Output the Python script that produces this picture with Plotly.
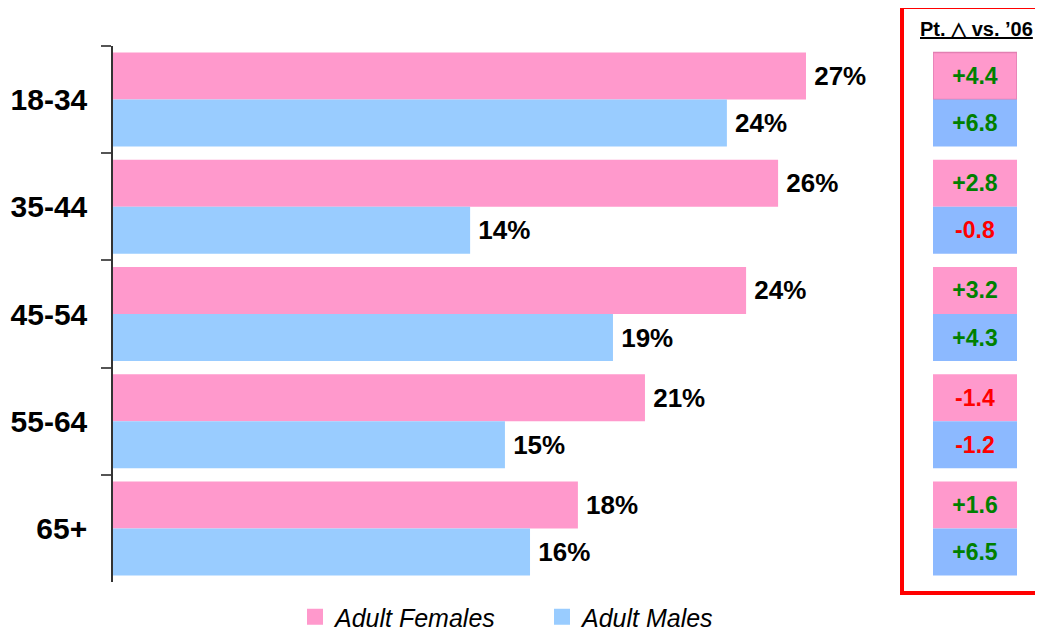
import plotly.graph_objects as go

categories = ["18-34", "35-44", "45-54", "55-64", "65+"]
females = [27.07, 25.98, 24.73, 20.78, 18.16]
males = [23.98, 13.95, 19.53, 15.31, 16.29]
female_labels = ["27%", "26%", "24%", "21%", "18%"]
male_labels = ["24%", "14%", "19%", "15%", "16%"]
female_delta = [4.4, 2.8, 3.2, -1.4, 1.6]
male_delta = [6.8, -0.8, 4.3, -1.2, 6.5]

PINK = "#FF99CC"
BLUE = "#99CCFF"
BOX_BLUE = "#8CB9FF"
FONT = "Liberation Sans, Arial, sans-serif"

def dcol(vals):
    return ["#008000" if v >= 0 else "#FF0000" for v in vals]

def dtxt(vals):
    return [f"{v:+.1f}" for v in vals]

fig = go.Figure()
fig.add_trace(go.Bar(
    y=categories, x=females, orientation="h", name="Adult Females",
    marker=dict(color=PINK, line=dict(width=0)), showlegend=False,
    text=["\u2009" + t for t in female_labels], textposition="outside",
    textfont=dict(family=FONT, size=26, color="black", weight="bold"),
    constraintext="none", cliponaxis=False, hoverinfo="skip",
))
fig.add_trace(go.Bar(
    y=categories, x=males, orientation="h", name="Adult Males",
    marker=dict(color=BLUE, line=dict(width=0)), showlegend=False,
    text=["\u2009" + t for t in male_labels], textposition="outside",
    textfont=dict(family=FONT, size=26, color="black", weight="bold"),
    constraintext="none", cliponaxis=False, hoverinfo="skip",
))
fig.add_trace(go.Bar(
    y=categories, x=[1] * len(categories), orientation="h", xaxis="x2",
    showlegend=False, hoverinfo="skip",
    marker=dict(color=PINK, line=dict(width=[1.5, 0, 0, 0, 0], color="#E27FB2")),
    text=dtxt(female_delta), textposition="inside", insidetextanchor="middle",
    textfont=dict(family=FONT, size=23, color=dcol(female_delta), weight="bold"),
    constraintext="none",
))
fig.add_trace(go.Bar(
    y=categories, x=[1] * len(categories), orientation="h", xaxis="x2",
    showlegend=False, hoverinfo="skip",
    marker=dict(color=BOX_BLUE, line=dict(width=0)),
    text=dtxt(male_delta), textposition="inside", insidetextanchor="middle",
    textfont=dict(family=FONT, size=23, color=dcol(male_delta), weight="bold"),
    constraintext="none",
))
# legend entries (square swatches)
for nm, col in [("Adult Females", PINK), ("Adult Males", BLUE)]:
    fig.add_trace(go.Scatter(
        x=[None], y=[None], mode="markers", name=nm,
        marker=dict(symbol="square", size=19, color=col), hoverinfo="skip",
    ))

OFF = 8  # page body margin
W, H = 1043, 631 - OFF
# plot-area edges in screen pixels
SL, SR, ST, SB = 113, 1033, 46, 582
L, T = SL - OFF, ST - OFF
R = W - (SR - OFF)
B = H - (SB - OFF)
pw = W - L - R
ph = H - T - B

def px(x):
    return (x - SL) / pw

def py(y):
    return (SB - y) / ph

fig.update_layout(
    width=W, height=H,
    margin=dict(l=L, r=R, t=T, b=B, pad=0, autoexpand=False),
    paper_bgcolor="white", plot_bgcolor="white",
    barmode="group", bargap=0.123, bargroupgap=0,
    font=dict(family=FONT, color="black"),
    xaxis=dict(domain=[0, px(881)], range=[0, 30], visible=False, fixedrange=True),
    xaxis2=dict(domain=[px(933), px(1017)], range=[0, 1], visible=False, anchor="y"),
    yaxis=dict(
        autorange="reversed", type="category", automargin=False,
        showline=True, linecolor="#333333", linewidth=1.5,
        ticks="outside", tickson="boundaries", ticklen=10, tickcolor="#555555", tickwidth=1.5,
        tickfont=dict(family=FONT, size=30, color="black", weight="bold"),
        ticklabelstandoff=18, showgrid=False, zeroline=False,
    ),
    legend=dict(
        orientation="h", xref="container", yref="container",
        x=(295 - OFF) / W, xanchor="left", y=(631 - 617) / H, yanchor="middle",
        font=dict(family=FONT, size=25, color="black", style="italic"),
        bgcolor="rgba(0,0,0,0)", itemwidth=30, itemsizing="trace",
        entrywidth=202, entrywidthmode="pixels",
    ),
    shapes=[dict(
        type="rect", xref="paper", yref="paper",
        x0=px(902), x1=px(1060), y0=py(593), y1=py(7),
        line=dict(color="#FF0000", width=4), fillcolor="rgba(0,0,0,0)", layer="below",
    )],
    annotations=[dict(
        text="<u>Pt. △ vs. ’06</u>", xref="paper", yref="paper",
        x=px(976), y=py(29), xanchor="center", yanchor="middle", showarrow=False,
        font=dict(family=FONT, size=20, color="black", weight="bold"),
    )],
)

fig.write_html("out.html")
